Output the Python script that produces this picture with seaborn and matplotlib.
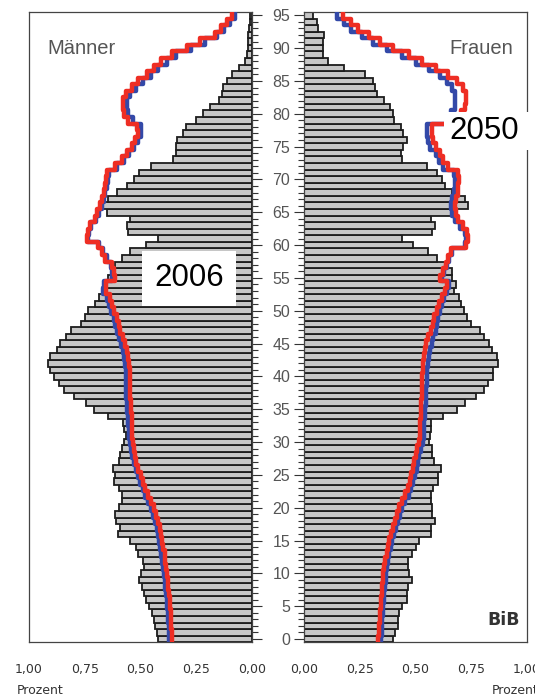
import numpy as np
import pandas as pd
import seaborn as sns
import matplotlib.pyplot as plt
from matplotlib.ticker import MultipleLocator

# --- data: share of population per single year of age (Prozent) ---
ages = list(range(96))

men_2006 = [
    0.420, 0.425, 0.435, 0.440, 0.450, 0.460, 0.475, 0.485, 0.495, 0.505,
    0.500, 0.485, 0.487, 0.510, 0.520, 0.545, 0.600, 0.590, 0.610, 0.615,
    0.595, 0.585, 0.585, 0.595, 0.620, 0.615, 0.625, 0.595, 0.590, 0.585,
    0.575, 0.565, 0.575, 0.580, 0.645, 0.710, 0.745, 0.800, 0.845, 0.865,
    0.890, 0.905, 0.915, 0.905, 0.875, 0.860, 0.835, 0.810, 0.765, 0.750,
    0.735, 0.705, 0.685, 0.655, 0.650, 0.645, 0.630, 0.615, 0.585, 0.545,
    0.475, 0.420, 0.555, 0.560, 0.545, 0.650, 0.680, 0.645, 0.605, 0.560,
    0.530, 0.505, 0.455, 0.355, 0.340, 0.340, 0.335, 0.310, 0.295, 0.250,
    0.220, 0.190, 0.150, 0.135, 0.130, 0.110, 0.090, 0.060, 0.030, 0.023,
    0.020, 0.020, 0.016, 0.012, 0.010, 0.008,
]
women_2006 = [
    0.400, 0.410, 0.423, 0.423, 0.426, 0.438, 0.460, 0.464, 0.468, 0.483,
    0.472, 0.465, 0.468, 0.483, 0.500, 0.517, 0.568, 0.568, 0.587, 0.575,
    0.575, 0.568, 0.568, 0.580, 0.602, 0.602, 0.614, 0.584, 0.572, 0.572,
    0.562, 0.565, 0.568, 0.568, 0.622, 0.685, 0.720, 0.770, 0.805, 0.826,
    0.849, 0.849, 0.868, 0.867, 0.841, 0.830, 0.809, 0.789, 0.748, 0.731,
    0.719, 0.703, 0.695, 0.672, 0.680, 0.665, 0.665, 0.632, 0.595, 0.557,
    0.490, 0.438, 0.575, 0.587, 0.570, 0.662, 0.734, 0.722, 0.662, 0.632,
    0.617, 0.595, 0.550, 0.438, 0.434, 0.446, 0.463, 0.446, 0.434, 0.404,
    0.398, 0.386, 0.359, 0.329, 0.318, 0.308, 0.274, 0.181, 0.109, 0.083,
    0.083, 0.084, 0.091, 0.064, 0.057, 0.039,
]
men_2050_blue = [
    0.370, 0.372, 0.374, 0.376, 0.378, 0.380, 0.383, 0.386, 0.389, 0.392,
    0.395, 0.398, 0.402, 0.406, 0.411, 0.416, 0.422, 0.428, 0.435, 0.443,
    0.452, 0.465, 0.478, 0.490, 0.502, 0.512, 0.522, 0.530, 0.537, 0.543,
    0.548, 0.551, 0.553, 0.556, 0.558, 0.560, 0.562, 0.563, 0.564, 0.565,
    0.566, 0.567, 0.569, 0.574, 0.580, 0.587, 0.596, 0.605, 0.613, 0.620,
    0.632, 0.640, 0.648, 0.668, 0.665, 0.628, 0.628, 0.632, 0.652, 0.668,
    0.685, 0.735, 0.730, 0.720, 0.698, 0.687, 0.672, 0.664, 0.657, 0.652,
    0.646, 0.640, 0.605, 0.575, 0.550, 0.530, 0.512, 0.497, 0.498, 0.535,
    0.555, 0.560, 0.560, 0.545, 0.520, 0.490, 0.452, 0.420, 0.380, 0.340,
    0.272, 0.213, 0.155, 0.125, 0.097, 0.078,
]
men_2050_red = [
    0.357, 0.359, 0.361, 0.363, 0.365, 0.367, 0.369, 0.372, 0.375, 0.378,
    0.381, 0.384, 0.388, 0.392, 0.397, 0.402, 0.408, 0.414, 0.421, 0.429,
    0.438, 0.452, 0.466, 0.478, 0.490, 0.500, 0.510, 0.518, 0.525, 0.530,
    0.534, 0.536, 0.537, 0.539, 0.540, 0.542, 0.544, 0.545, 0.546, 0.547,
    0.547, 0.548, 0.550, 0.555, 0.562, 0.570, 0.580, 0.590, 0.598, 0.605,
    0.620, 0.629, 0.637, 0.655, 0.655, 0.614, 0.621, 0.629, 0.659, 0.674,
    0.690, 0.741, 0.734, 0.726, 0.705, 0.695, 0.680, 0.672, 0.665, 0.660,
    0.655, 0.650, 0.615, 0.585, 0.560, 0.540, 0.525, 0.510, 0.515, 0.555,
    0.575, 0.580, 0.580, 0.565, 0.540, 0.510, 0.472, 0.440, 0.410, 0.360,
    0.290, 0.235, 0.165, 0.140, 0.110, 0.090,
]
women_2050_blue = [
    0.345, 0.348, 0.350, 0.352, 0.354, 0.356, 0.358, 0.360, 0.363, 0.366,
    0.369, 0.373, 0.378, 0.383, 0.389, 0.396, 0.404, 0.412, 0.420, 0.430,
    0.440, 0.455, 0.470, 0.481, 0.490, 0.498, 0.505, 0.511, 0.517, 0.525,
    0.532, 0.536, 0.538, 0.540, 0.542, 0.543, 0.545, 0.546, 0.548, 0.550,
    0.551, 0.553, 0.556, 0.560, 0.565, 0.572, 0.578, 0.590, 0.596, 0.603,
    0.612, 0.620, 0.630, 0.642, 0.648, 0.620, 0.628, 0.640, 0.650, 0.662,
    0.722, 0.725, 0.720, 0.700, 0.675, 0.664, 0.658, 0.662, 0.672, 0.675,
    0.677, 0.672, 0.625, 0.605, 0.590, 0.565, 0.555, 0.552, 0.552, 0.645,
    0.660, 0.675, 0.678, 0.675, 0.665, 0.640, 0.610, 0.560, 0.500, 0.440,
    0.370, 0.310, 0.260, 0.210, 0.180, 0.150,
]
women_2050_red = [
    0.333, 0.336, 0.338, 0.340, 0.342, 0.344, 0.346, 0.348, 0.350, 0.353,
    0.356, 0.360, 0.365, 0.370, 0.375, 0.382, 0.390, 0.398, 0.406, 0.415,
    0.425, 0.440, 0.455, 0.465, 0.474, 0.482, 0.488, 0.494, 0.500, 0.508,
    0.515, 0.519, 0.521, 0.522, 0.524, 0.525, 0.526, 0.527, 0.528, 0.530,
    0.531, 0.533, 0.535, 0.538, 0.542, 0.548, 0.555, 0.570, 0.578, 0.585,
    0.595, 0.605, 0.618, 0.632, 0.640, 0.612, 0.622, 0.635, 0.645, 0.660,
    0.725, 0.735, 0.730, 0.712, 0.690, 0.680, 0.675, 0.680, 0.690, 0.692,
    0.695, 0.690, 0.645, 0.625, 0.610, 0.590, 0.578, 0.575, 0.575, 0.680,
    0.705, 0.720, 0.728, 0.725, 0.712, 0.685, 0.645, 0.590, 0.530, 0.470,
    0.400, 0.340, 0.290, 0.240, 0.210, 0.175,
]

xtick_vals = [0, 0.25, 0.5, 0.75, 1.0]
xtick_labels = ["0,00", "0,25", "0,50", "0,75", "1,00"]
ytick_vals = list(range(0, 96, 5))

BAR_FILL = "#c6c6c6"
BAR_EDGE = "#1c1c1c"
BLUE = "#3349a8"
RED = "#ee2e24"
GREY_TXT = "#555555"


def step_frame(vals):
    # one vertical segment per age band -> step outline
    a = np.repeat(ages, 2) + np.tile([-0.5, 0.5], len(ages))
    v = np.repeat(vals, 2)
    return pd.DataFrame({"Prozent": v, "Alter": a})


sns.set_style("white")
plt.rcParams["font.family"] = ["DejaVu Sans"]

W, H = 535, 697
fig = plt.figure(figsize=(W / 100, H / 100), dpi=100)
fig.patch.set_facecolor("white")

ax_m = fig.add_axes([29 / W, 1 - 642 / H, 223 / W, 630 / H])
ax_f = fig.add_axes([304 / W, 1 - 642 / H, 223 / W, 630 / H])

for ax, bars, blue, red in [
    (ax_m, men_2006, men_2050_blue, men_2050_red),
    (ax_f, women_2006, women_2050_blue, women_2050_red),
]:
    sns.barplot(x=bars, y=ages, orient="h", native_scale=True, ax=ax,
                color=BAR_FILL, saturation=1, width=1.0,
                edgecolor=BAR_EDGE, linewidth=1.3, zorder=2)
    sns.lineplot(data=step_frame(blue), x="Prozent", y="Alter", sort=False,
                 estimator=None, ax=ax, color=BLUE, linewidth=3.2, zorder=3)
    sns.lineplot(data=step_frame(red), x="Prozent", y="Alter", sort=False,
                 estimator=None, ax=ax, color=RED, linewidth=3.2, zorder=4)
    ax.set_ylim(-0.45, 95.5)
    ax.set_xlabel("")
    ax.set_ylabel("")
    ax.set_xticks(xtick_vals)
    ax.set_xticklabels(xtick_labels, fontsize=9, color="#333333")
    ax.xaxis.set_minor_locator(MultipleLocator(0.05))
    ax.yaxis.set_major_locator(MultipleLocator(5))
    ax.yaxis.set_minor_locator(MultipleLocator(1))
    ax.tick_params(axis="x", which="major", length=8, width=0.8, color="#333333", pad=7)
    ax.tick_params(axis="x", which="minor", length=4.5, width=0.8, color="#333333")
    for s in ax.spines.values():
        s.set_color("#444444")
        s.set_linewidth(0.9)

# men: ages axis on the right, reversed x
ax_m.set_xlim(1.0, 0.0)
ax_m.yaxis.tick_right()
ax_m.tick_params(axis="y", which="major", length=7, width=0.8, color="#333333",
                 labelright=False, labelleft=False)
ax_m.tick_params(axis="y", which="minor", length=4, width=0.8, color="#333333")

# women: age labels on the left
ax_f.set_xlim(0.0, 1.0)
ax_f.yaxis.tick_left()
ax_f.set_yticks(ytick_vals)
ax_f.set_yticklabels([str(v) for v in ytick_vals], fontsize=11.5,
                     color=GREY_TXT, family=["Liberation Sans"])
ax_f.tick_params(axis="y", which="major", length=7, width=0.8, color="#333333", pad=3)
ax_f.tick_params(axis="y", which="minor", length=4, width=0.8, color="#333333")

# texts
fig.text(47 / W, 1 - 48 / H, "Männer", fontsize=14.5, color=GREY_TXT,
         family=["Liberation Sans"], ha="left", va="center")
fig.text(513 / W, 1 - 48 / H, "Frauen", fontsize=14.5, color=GREY_TXT,
         family=["Liberation Sans"], ha="right", va="center")
fig.text(189 / W, 1 - 278 / H, "2006", fontsize=22.5, color="black",
         family=["Liberation Sans"], ha="center", va="center",
         bbox=dict(boxstyle="square,pad=0.4", facecolor="white", edgecolor="none"))

# white label box for 2050, reaching over the right frame
fig.add_artist(plt.Rectangle((444 / W, 1 - 150 / H), 91 / W, 38 / H,
                             transform=fig.transFigure, facecolor="white",
                             edgecolor="none", zorder=5))
fig.text(484 / W, 1 - 131 / H, "2050", fontsize=22.5, color="black",
         family=["Liberation Sans"], ha="center", va="center", zorder=6)
fig.text(520 / W, 1 - 620 / H, "BiB", fontsize=12.5, color="#333333",
         fontweight="bold", ha="right", va="center")
fig.text(17 / W, 1 - 690 / H, "Prozent", fontsize=9, color="#333333",
         ha="left", va="center")
fig.text(492 / W, 1 - 690 / H, "Prozent", fontsize=9, color="#333333",
         ha="left", va="center")

plt.savefig("out.png", dpi=100)
